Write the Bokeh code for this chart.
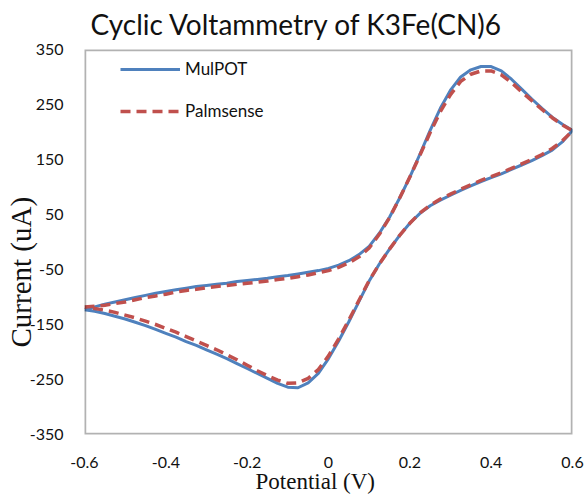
import math
from bokeh.plotting import figure
from bokeh.models import (Range1d, FixedTicker, Legend, LegendItem, Title,
                          BoxAnnotation)
from bokeh.embed import file_html
from bokeh.resources import INLINE

title_text = "Cyclic Voltammetry of K3Fe(CN)6"
x_label = "Potential (V)"
y_label = "Current (uA)"
series_names = ["MulPOT", "Palmsense"]
x_ticks = [-0.6, -0.4, -0.2, 0.0, 0.2, 0.4, 0.6]
x_tick_labels = ["-0.6", "-0.4", "-0.2", "0", "0.2", "0.4", "0.6"]
y_ticks = [-350, -250, -150, -50, 50, 150, 250, 350]
y_tick_labels = ["-350", "-250", "-150", "-50", "50", "150", "250", "350"]

# forward scan potentials (V), -0.6 -> 0.6
potential_fwd = [-0.6, -0.575, -0.55, -0.525, -0.5, -0.475, -0.45, -0.425, -0.4, -0.375,
                 -0.35, -0.325, -0.3, -0.275, -0.25, -0.225, -0.2, -0.175, -0.15, -0.125,
                 -0.1, -0.075, -0.05, -0.025, 0.0, 0.025, 0.05, 0.075, 0.1, 0.125,
                 0.15, 0.175, 0.2, 0.225, 0.25, 0.275, 0.3, 0.325, 0.35, 0.375,
                 0.4, 0.425, 0.45, 0.475, 0.5, 0.525, 0.55, 0.575, 0.6]
# reverse scan potentials (V), 0.6 -> -0.6
potential_rev = potential_fwd[::-1]

mulpot_fwd = [-123, -118, -113, -109, -105, -101, -97, -93, -90, -87,
              -84, -81, -79, -77, -75, -72, -70, -68, -66, -63,
              -61, -58, -55, -52, -48, -42, -34, -23, -8, 16,
              45, 80, 118, 160, 203, 243, 276, 300, 313, 319,
              319, 311, 296, 278, 260, 243, 227, 214, 203]
mulpot_rev = [203, 182, 167, 157, 148, 140, 132, 124, 117, 110,
              102, 94, 85, 76, 66, 52, 34, 12, -13, -40,
              -71, -108, -145, -180, -212, -239, -256, -265, -264, -257,
              -248, -239, -230, -221, -212, -204, -196, -188, -181, -173,
              -166, -159, -152, -146, -140, -135, -130, -126, -123]
palmsense_fwd = [-118, -117, -115, -112, -109, -105, -101, -98, -95, -91,
                 -88, -86, -83, -81, -79, -77, -75, -73, -71, -68,
                 -66, -63, -60, -56, -52, -46, -38, -27, -11, 14,
                 44, 80, 118, 158, 199, 237, 268, 292, 305, 311,
                 311, 304, 290, 273, 257, 241, 226, 213, 202]
palmsense_rev = [202, 184, 170, 159, 150, 142, 134, 126, 119, 112,
                 104, 96, 87, 78, 67, 53, 34, 12, -13, -40,
                 -70, -106, -142, -176, -207, -232, -248, -256, -257, -251,
                 -243, -234, -224, -214, -205, -196, -188, -180, -172, -164,
                 -157, -150, -144, -138, -133, -128, -124, -121, -118]

BLUE = "#4F81BD"
RED = "#C0504D"
SANS = "Lato"
SERIF = "Liberation Serif"
INK = "#111111"

p = figure(width=587, height=496, output_backend="svg", toolbar_location=None,
           x_range=Range1d(-0.6, 0.6), y_range=Range1d(-350, 350),
           min_border_left=84, min_border_right=15, min_border_top=49, min_border_bottom=62)
p.background_fill_color = "white"
p.border_fill_color = "white"
p.outline_line_color = None
p.xgrid.grid_line_color = None
p.ygrid.grid_line_color = None

for ax in (p.xaxis[0], p.yaxis[0]):
    ax.axis_line_color = None
    ax.major_tick_line_color = None
    ax.minor_tick_line_color = None
    ax.major_tick_in = 0
    ax.major_tick_out = 0
    ax.minor_tick_in = 0
    ax.minor_tick_out = 0
    ax.major_label_text_font = SANS
    ax.major_label_text_font_size = "16px"
    ax.major_label_text_color = INK

p.xaxis.ticker = FixedTicker(ticks=x_ticks)
p.yaxis.ticker = FixedTicker(ticks=y_ticks)
p.xaxis.major_label_overrides = dict(zip(x_ticks, x_tick_labels))
p.yaxis.major_label_overrides = dict(zip(y_ticks, y_tick_labels))
p.xaxis.major_label_standoff = 22
p.yaxis.major_label_standoff = 21

# plot-area frame
p.add_layout(BoxAnnotation(fill_alpha=0, line_color="black", line_width=3.5))

r_blue = p.line(potential_fwd + potential_rev, mulpot_fwd + mulpot_rev,
                line_color=BLUE, line_width=3, line_join="round")
r_red = p.line(potential_fwd + potential_rev, palmsense_fwd + palmsense_rev,
               line_color=RED, line_width=3.5, line_dash="10 6", line_join="round")

legend = Legend(items=[LegendItem(label=series_names[0], renderers=[r_blue]),
                       LegendItem(label=series_names[1], renderers=[r_red])],
                location=(36, 313), padding=0, margin=0, spacing=21,
                glyph_width=60, glyph_height=20, label_height=20, label_standoff=5,
                label_text_font=SANS, label_text_font_size="17px",
                label_text_color=INK,
                border_line_color=None, background_fill_alpha=0)
p.add_layout(legend, "center")

p.title.text = title_text
p.title.align = "left"
p.title.offset = 6
p.title.standoff = 13
p.title.vertical_align = "top"
p.title.text_font = SANS
p.title.text_font_size = "28px"
p.title.text_font_style = "normal"
p.title.text_color = INK

p.add_layout(Title(text=y_label, align="left", offset=87, standoff=-23,
                   vertical_align="middle", text_font=SERIF, text_font_size="29px",
                   text_font_style="normal", text_color=INK), "left")
p.add_layout(Title(text=x_label, align="left", offset=171, standoff=-4,
                   vertical_align="top", text_font=SERIF, text_font_size="23px",
                   text_font_style="normal", text_color=INK), "below")

open("out.html", "w").write(file_html(p, INLINE))
